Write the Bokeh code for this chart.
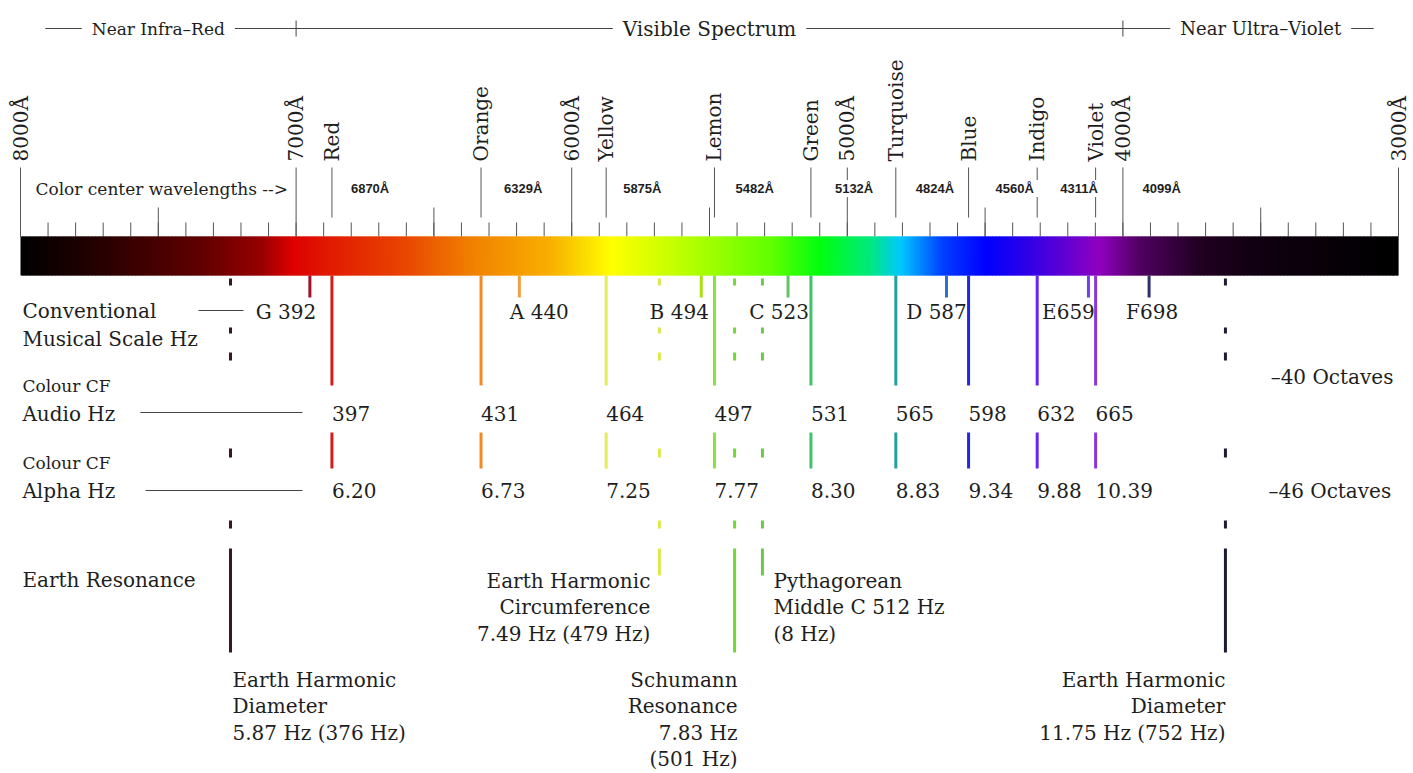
import numpy as np
from bokeh.plotting import figure
from bokeh.models import Range1d
from bokeh.core.properties import value
from bokeh.embed import file_html
from bokeh.resources import INLINE

# ---------------- data ----------------
region_names = ["Near Infra\u2013Red", "Visible Spectrum", "Near Ultra\u2013Violet"]
region_bounds = [8000, 7000, 4000, 3000]          # Å

major_wavelengths = [8000, 7000, 6000, 5000, 4000, 3000]
major_labels = ["8000Å", "7000Å", "6000Å", "5000Å", "4000Å", "3000Å"]

colour_names = ["Red", "Orange", "Yellow", "Lemon", "Green", "Turquoise", "Blue", "Indigo", "Violet"]
colour_centres = [6870, 6329, 5875, 5482, 5132, 4824, 4560, 4311, 4099]
colour_centre_labels = ["6870Å", "6329Å", "5875Å", "5482Å", "5132Å", "4824Å", "4560Å", "4311Å", "4099Å"]
colour_audio_hz = ["397", "431", "464", "497", "531", "565", "598", "632", "665"]
colour_alpha_hz = ["6.20", "6.73", "7.25", "7.77", "8.30", "8.83", "9.34", "9.88", "10.39"]

note_labels = ["G 392", "A 440", "B 494", "C 523", "D 587", "E659", "F698"]
note_wavelengths = [6950, 6190, 5530, 5215, 4640, 4125, 3905]

earth_wavelengths = [7238, 5682, 5409, 5308, 3628]
earth_texts = [
    ["Earth Harmonic", "Diameter", "5.87 Hz (376 Hz)"],
    ["Earth Harmonic", "Circumference", "7.49 Hz (479 Hz)"],
    ["Schumann", "Resonance", "7.83 Hz", "(501 Hz)"],
    ["Pythagorean", "Middle C 512 Hz", "(8 Hz)"],
    ["Earth Harmonic", "Diameter", "11.75 Hz (752 Hz)"],
]

# ---------------- style / layout ----------------
SERIF = "DejaVu Serif"
SANS = "Liberation Sans"
INK = "#1e1e1e"
FS = "20px"

colour_line_colors = ["#d41c1c", "#f08a28", "#e4ec58", "#8ee03c", "#3ec46a",
                      "#22a0a0", "#2626e2", "#6a26e8", "#8a36d8"]
note_colors = ["#a01028", "#f0a040", "#a8e010", "#62c462", "#3070c8", "#7040f0", "#303070"]
earth_colors = ["#3a1820", "#dce84a", "#74d63a", "#6cc84a", "#1c1c34"]
earth_align = ["left", "right", "right", "left", "right"]
earth_dx = [2, -9, 3, 11, 0]
earth_y0 = [679, 580, 679, 580, 679]
earth_end = [652, 575, 652, 575, 652]
earth_dashes = [(278, 285), (327, 333), (352, 360), (448, 457), (520, 528)]
note_label_dx = [-24, 20, -22, -9, -10, -20, 3]
cc_label_dx = [9, 13, 7, 11, 14, 10, 17, 13, 37]
region_font_sizes = ["17px", "20px", "18px"]

# spectrum gradient colour stops (wavelength Å, colour)
grad_stops = [
    (8000, "#000000"), (7700, "#2a0000"), (7350, "#600000"), (7130, "#980000"),
    (7020, "#dd0000"), (6900, "#e01800"), (6620, "#e84400"), (6370, "#f08000"),
    (6080, "#f8b000"), (5860, "#ffff00"), (5710, "#d8ff00"), (5530, "#a8ff00"),
    (5280, "#60ff00"), (5100, "#00ff10"), (4920, "#00e880"), (4810, "#00c8ff"),
    (4660, "#0040ff"), (4500, "#0000ff"), (4300, "#4000e0"), (4090, "#9000c0"),
    (3940, "#500060"), (3720, "#200020"), (3500, "#100010"), (3000, "#000000"),
]

LEFT_X = 7993

p = figure(width=1413, height=773, x_range=Range1d(8072.57, 2945.6), y_range=Range1d(773, 0),
           output_backend="svg", toolbar_location=None, min_border=0)
p.axis.visible = False
p.grid.visible = False
p.outline_line_color = None
p.background_fill_color = "white"
p.border_fill_color = "white"

# ---- header ----
p.segment(x0=[region_bounds[0] - 90], x1=[region_bounds[-1] + 90], y0=[28], y1=[28],
          line_color="#444444", line_width=1)
p.segment(x0=region_bounds[1:3], x1=region_bounds[1:3], y0=[20, 20], y1=[36, 36],
          line_color="#444444", line_width=1)
mids = [(region_bounds[i] + region_bounds[i + 1]) / 2 for i in range(3)]
p.text(x=mids, y=[28] * 3, text=region_names, text_font=value(SERIF),
       text_font_size=region_font_sizes,
       text_align="center", text_baseline="middle", text_color=INK,
       background_fill_color="white", padding=10)

# ---- ticks ----
minor = list(range(8000, 2999, -100))
p.segment(x0=minor, x1=minor, y0=[222] * len(minor), y1=[236] * len(minor),
          line_color="#555555", line_width=1)
medium = list(range(7500, 3000, -1000))
p.segment(x0=medium, x1=medium, y0=[207] * len(medium), y1=[236] * len(medium),
          line_color="#555555", line_width=1)
p.segment(x0=major_wavelengths, x1=major_wavelengths, y0=[167] * 6, y1=[236] * 6,
          line_color="#555555", line_width=1)
p.segment(x0=colour_centres, x1=colour_centres, y0=[167] * 9, y1=[217] * 9,
          line_color="#555555", line_width=1)

# rotated labels
p.text(x=major_wavelengths + colour_centres, y=[161] * 15, text=major_labels + colour_names,
       angle=np.pi / 2, text_font=value(SERIF), text_font_size=FS,
       text_align="left", text_baseline="middle", text_color=INK)

p.text(x=[7946], y=[188], text=["Color center wavelengths -->"], text_font=value(SERIF),
       text_font_size="17px", text_align="left", text_baseline="middle", text_color=INK)
p.text(x=colour_centres, y=[188] * 9, text=colour_centre_labels, x_offset=cc_label_dx,
       text_font=value(SANS), text_font_size="13px", text_font_style="bold",
       text_align="left", text_baseline="middle", text_color=INK,
       background_fill_color="white", padding=(10, 1))

# ---- spectrum bar ----
sw = np.array([s[0] for s in grad_stops], dtype=float)[::-1]
sc = np.array([[int(s[1][i:i + 2], 16) for i in (1, 3, 5)] for s in grad_stops], dtype=float)[::-1]
edges = np.arange(3000, 8001, 5)
lefts, rights = edges[1:], edges[:-1]
mid = (lefts + rights) / 2
cols = []
for m in mid:
    rgb = [np.interp(m, sw, sc[:, k]) for k in range(3)]
    cols.append("#%02x%02x%02x" % tuple(int(round(v)) for v in rgb))
rights_ov = np.maximum(rights - 4, 3000)   # overlap neighbouring strips to hide seams
p.quad(left=lefts, right=rights_ov, top=236, bottom=275, fill_color=cols, line_color=None)

# ---- musical notes ----
p.segment(x0=note_wavelengths, x1=note_wavelengths, y0=[275] * 7, y1=[297] * 7,
          line_color=note_colors, line_width=3)
p.text(x=note_wavelengths, y=[311] * 7, text=note_labels, x_offset=note_label_dx,
       text_font=value(SERIF), text_font_size=FS, text_align="center",
       text_baseline="middle", text_color=INK)

# ---- colour lines ----
p.segment(x0=colour_centres, x1=colour_centres, y0=[275] * 9, y1=[385] * 9,
          line_color=colour_line_colors, line_width=3)
p.segment(x0=colour_centres, x1=colour_centres, y0=[432] * 9, y1=[468] * 9,
          line_color=colour_line_colors, line_width=3)
p.text(x=colour_centres, y=[413] * 9, text=colour_audio_hz, text_font=value(SERIF),
       text_font_size=FS, text_align="left", text_baseline="middle", text_color=INK)
p.text(x=colour_centres, y=[490] * 9, text=colour_alpha_hz, text_font=value(SERIF),
       text_font_size=FS, text_align="left", text_baseline="middle", text_color=INK)

# ---- earth lines ----
for wl, c, ye in zip(earth_wavelengths, earth_colors, earth_end):
    ys = earth_dashes + [(548, ye)]
    p.segment(x0=[wl] * len(ys), x1=[wl] * len(ys), y0=[a for a, b in ys], y1=[b for a, b in ys],
              line_color=c, line_width=3)
for wl, lines, al, dx, y0 in zip(earth_wavelengths, earth_texts, earth_align, earth_dx, earth_y0):
    p.text(x=[wl] * len(lines), y=[y0 + 26.5 * i for i in range(len(lines))], text=lines,
           x_offset=dx, text_font=value(SERIF), text_font_size=FS, text_align=al,
           text_baseline="middle", text_color=INK)

# ---- row labels ----
p.text(x=[LEFT_X] * 4, y=[310, 338, 413, 490],
       text=["Conventional", "Musical Scale Hz", "Audio Hz", "Alpha Hz"],
       text_font=value(SERIF), text_font_size=FS, text_align="left",
       text_baseline="middle", text_color=INK)
p.text(x=[LEFT_X] * 2, y=[385, 462], text=["Colour CF", "Colour CF"],
       text_font=value(SERIF), text_font_size="17px", text_align="left",
       text_baseline="middle", text_color=INK)
p.text(x=[LEFT_X], y=[579], text=["Earth Resonance"], text_font=value(SERIF),
       text_font_size=FS, text_align="left", text_baseline="middle", text_color=INK)
p.segment(x0=[7354, 7565, 7546], x1=[7191, 6977, 6977], y0=[310, 412, 490], y1=[310, 412, 490],
          line_color="#444444", line_width=1)
p.text(x=[3464, 3472], y=[376, 490], text=["\u201340 Octaves", "\u201346 Octaves"],
       text_font=value(SERIF), text_font_size=FS, text_align="left",
       text_baseline="middle", text_color=INK)

open("out.html", "w").write(file_html(p, INLINE))
